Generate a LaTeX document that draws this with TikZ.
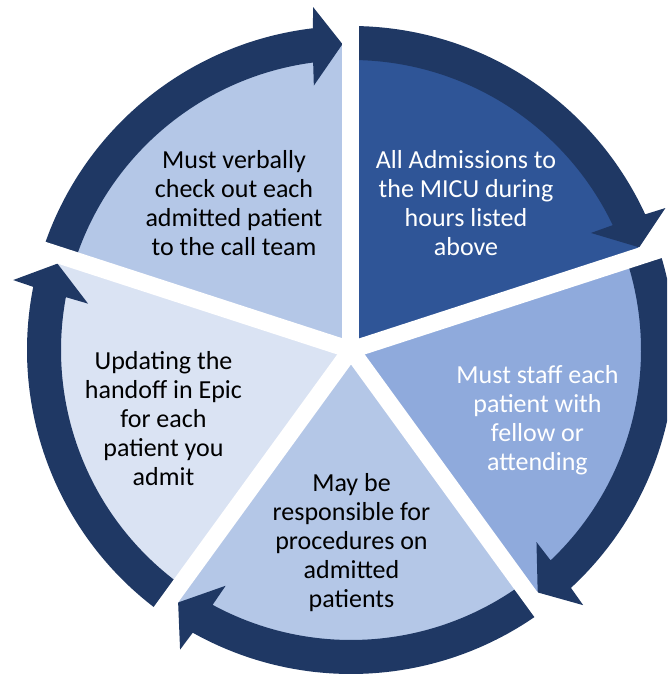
\documentclass[tikz,border=0pt]{standalone}
\usepackage{fontspec}
\setmainfont{Carlito}
\definecolor{navy}{HTML}{1F3864}
\definecolor{segTR}{HTML}{2F5597}
\definecolor{segR}{HTML}{8FAADC}
\definecolor{segB}{HTML}{B4C7E7}
\definecolor{segL}{HTML}{DAE3F3}
\definecolor{segTL}{HTML}{B4C7E7}
\tikzset{
  gapline/.style={draw=white, line width=17pt},
  lbl/.style={font=\fontsize{26}{29}\selectfont, align=center, inner sep=0pt},
  cyclearrow/.style={fill=navy},
}
% #1 = start boundary angle, #2 = end boundary angle (clockwise)
\newcommand\mycyclearrow[2]{%
  \fill[cyclearrow] (#1:324) arc[start angle=#1, end angle={#2+6.76}, radius=324]
    -- ({#2+6.3}:345) -- ({#2+1.6}:306) -- ({#2+8.0}:267) -- ({#2+7.5}:290)
    arc[start angle={#2+7.5}, end angle=#1, radius=290] -- cycle;}
\newcommand\mysector[3]{%
  \fill[#3] (0,0) -- (#1:305) arc[start angle=#1, end angle=#2, radius=305] -- cycle;}
\begin{document}
\begin{tikzpicture}[x=1pt,y=1pt]
\useasboundingbox (-351,-325) rectangle (316,350);
\clip (-351,-325) rectangle (316,350);
% pie segments
\mysector{18}{90}{segTR}
\mysector{-54}{18}{segR}
\mysector{-126}{-54}{segB}
\mysector{-198}{-126}{segL}
\mysector{90}{162}{segTL}
% arrows
\mycyclearrow{162}{90}
\mycyclearrow{90}{18}
\mycyclearrow{18}{-54}
\mycyclearrow{-54}{-126}
\mycyclearrow{-126}{-198}
% gaps
\foreach \a in {90,18,-54,-126,-198} \draw[gapline] (0,0) -- (\a:360);
% labels
\node[lbl, text=white] (tr) at (115,146.5) {All Admissions to\\the MICU during\\hours listed\\above};
\node[lbl, text=white] (r) at (186.5,-70) {Must staff each\\patient with\\fellow or\\attending};
\node[lbl, text=black] (b) at (0.5,-193) {May be\\responsible for\\procedures on\\admitted\\patients};
\node[lbl, text=black] (l) at (-187.5,-69) {Updating the\\handoff in Epic\\for each\\patient you\\admit};
\node[lbl, text=black] (tl) at (-117,146.5) {Must verbally\\check out each\\admitted patient\\to the call team};
\end{tikzpicture}
\end{document}
